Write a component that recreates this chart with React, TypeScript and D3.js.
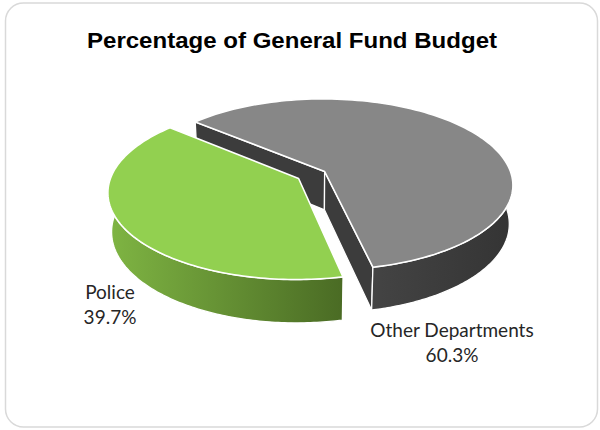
import React from 'react';
import * as d3 from 'd3';

const categories = ['Police', 'Other Departments'];
const values = [39.7, 60.3];
const valueLabels = ['39.7%', '60.3%'];
const chartTitle = 'Percentage of General Fund Budget';

const topColors = ['#92d050', '#878787'];
const wallFrom = ['#7fb543', '#444444'];
const wallTo = ['#4a6b24', '#343434'];
const cutColors = ['#3c3c3c', '#3c3c3c'];
// label anchor positions (layout)
const labelPos: [number, number][] = [[110, 299], [452, 337]];

export default function App() {
  const W = 600, H = 430;
  const startDeg = 167.8;
  const a0 = (startDeg * Math.PI) / 180;
  const pie = d3.pie<number>().sort(null).startAngle(a0).endAngle(a0 + 2 * Math.PI);
  const arcs = pie(values);

  const phi = Math.asin(0.4523);
  const cosP = Math.cos(phi), sinP = Math.sin(phi);
  const Dist = 5.9, S = 187, OX = 311.7, OY = 175, thick = 0.235, explode = 0.081;
  const camZ = Dist * cosP;

  const proj = (X: number, Y: number, Z: number): [number, number] => {
    const w = Dist - (Z * cosP + Y * sinP);
    const k = (S * Dist) / w;
    return [OX + k * X, OY - k * (Y * cosP - Z * sinP)];
  };
  const line = d3.line();

  const slices = arcs.map((a, i) => {
    const m = (a.startAngle + a.endAngle) / 2;
    const cx = explode * Math.sin(m);
    const cz = -explode * Math.cos(m);
    const rim = (ang: number, Y: number) => proj(cx + Math.sin(ang), Y, cz - Math.cos(ang));
    const n = 120;
    const angs = d3.range(n + 1).map((j) => a.startAngle + ((a.endAngle - a.startAngle) * j) / n);
    const tipTop = proj(cx, 0, cz);
    const tipBot = proj(cx, -thick, cz);
    const topPts: [number, number][] = [tipTop, ...angs.map((g) => rim(g, 0))];
    const topPath = line(topPts) + 'Z';

    let wallPath: string | null = null;
    const lo = Math.PI / 2, hi = (3 * Math.PI) / 2;
    for (const off of [0, 2 * Math.PI]) {
      const s0 = Math.max(a.startAngle, lo + off);
      const s1 = Math.min(a.endAngle, hi + off);
      if (s1 > s0) {
        const ws = d3.range(n + 1).map((j) => s0 + ((s1 - s0) * j) / n);
        const pts = [...ws.map((g) => rim(g, 0)), ...ws.slice().reverse().map((g) => rim(g, -thick))];
        wallPath = line(pts) + 'Z';
      }
    }

    const cuts: string[] = [];
    const faceVisible = (nx: number, nz: number) => nx * -cx + nz * (camZ - cz) > 0;
    {
      const g = a.startAngle;
      if (faceVisible(-Math.cos(g), -Math.sin(g))) {
        cuts.push(line([tipTop, rim(g, 0), rim(g, -thick), tipBot])! + 'Z');
      }
    }
    {
      const g = a.endAngle;
      if (faceVisible(Math.cos(g), Math.sin(g))) {
        cuts.push(line([tipTop, rim(g, 0), rim(g, -thick), tipBot])! + 'Z');
      }
    }
    return { i, cz, topPath, wallPath, cuts };
  });

  const order = slices.slice().sort((p, q) => p.cz - q.cz);

  return (
    <svg width={W} height={H} style={{ position: 'absolute', left: 0, top: 0, background: '#fff' }}>
      <defs>
        {values.map((_, i) => (
          <linearGradient key={i} id={`wall${i}`} gradientUnits="objectBoundingBox" x1="0" y1="0" x2="1" y2="0">
            <stop offset="0" stopColor={wallFrom[i]} />
            <stop offset="1" stopColor={wallTo[i]} />
          </linearGradient>
        ))}
      </defs>
      <rect x={5.5} y={3} width={592} height={424} rx={18} ry={18} fill="#fff" stroke="#d9d9d9" strokeWidth={1.5} />
      <text
        x={292}
        y={47.7}
        textAnchor="middle"
        fontFamily="'Liberation Sans', Arial, sans-serif"
        fontWeight="bold"
        fontSize={21.5}
        textLength={410}
        lengthAdjust="spacingAndGlyphs"
        fill="#000"
      >
        {chartTitle}
      </text>
      {order.map((s) => (
        <g key={s.i}>
          {s.cuts.map((c, k) => (
            <path key={k} d={c} fill={cutColors[s.i]} stroke="#fff" strokeWidth={1.3} strokeLinejoin="round" />
          ))}
          {s.wallPath && (
            <path d={s.wallPath} fill={`url(#wall${s.i})`} stroke="#fff" strokeWidth={1.3} strokeLinejoin="round" />
          )}
          <path d={s.topPath} fill={topColors[s.i]} stroke="#fff" strokeWidth={1.6} strokeLinejoin="round" />
        </g>
      ))}
      {categories.map((c, i) => (
        <text
          key={c}
          x={labelPos[i][0]}
          y={labelPos[i][1]}
          textAnchor="middle"
          fontFamily="Lato, 'Open Sans', sans-serif"
          fontSize={19}
          fill="#262626"
        >
          <tspan x={labelPos[i][0]}>{c}</tspan>
          <tspan x={labelPos[i][0]} dy={24.5}>{valueLabels[i]}</tspan>
        </text>
      ))}
    </svg>
  );
}
